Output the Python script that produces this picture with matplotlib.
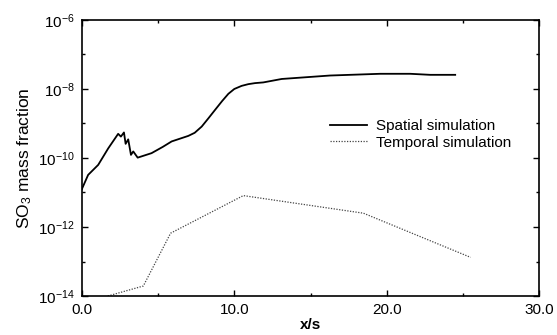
import numpy as np
import matplotlib
matplotlib.use("Agg")
import matplotlib.pyplot as plt
from matplotlib.ticker import FixedLocator, FixedFormatter

plt.rcParams['font.family'] = ['Liberation Sans', 'DejaVu Sans']
plt.rcParams['mathtext.fontset'] = 'custom'
plt.rcParams['mathtext.rm'] = 'Liberation Sans'
plt.rcParams['mathtext.it'] = 'Liberation Sans:italic'
plt.rcParams['mathtext.default'] = 'regular'

# spatial simulation: x/s and log10 of SO3 mass fraction
spatial_x = [0.0, 0.41, 1.07, 1.73, 2.38, 2.56, 2.76, 2.87, 3.04, 3.22, 3.37, 3.66,
             4.57, 5.3, 5.89, 6.98, 7.4, 7.86, 8.3, 8.73, 9.2, 9.61, 10.0, 10.48,
             10.92, 11.36, 11.9, 13.11, 16.28, 19.57, 21.54, 22.85, 24.49]
spatial_log = [-10.9, -10.49, -10.2, -9.72, -9.3, -9.38, -9.26, -9.59, -9.46, -9.91,
               -9.81, -9.99, -9.86, -9.68, -9.52, -9.36, -9.27, -9.09, -8.85, -8.61,
               -8.35, -8.14, -8.0, -7.91, -7.86, -7.83, -7.81, -7.71, -7.61, -7.56,
               -7.56, -7.59, -7.59]

# temporal simulation
temporal_x = [1.7, 4.03, 5.82, 10.59, 18.47, 25.5]
temporal_log = [-14.0, -13.71, -12.18, -11.09, -11.6, -12.88]

yticks = [1e-14, 1e-12, 1e-10, 1e-8, 1e-6]
ylabels = [r'$10^{-14}$', r'$10^{-12}$', r'$10^{-10}$', r'$10^{-8}$', r'$10^{-6}$']
xticks = [0, 10, 20, 30]
xlabels = ["0.0", "10.0", "20.0", "30.0"]

fig = plt.figure(figsize=(5.57, 3.35), dpi=100)
ax = fig.add_axes([0.147, 0.1164, 0.821, 0.824])

ax.plot(spatial_x, 10.0 ** np.array(spatial_log), color="black", lw=1.3,
        label="Spatial simulation")
ax.plot(temporal_x, 10.0 ** np.array(temporal_log), color="#444444", lw=0.9,
        ls=(0, (1, 1.2)), label="Temporal simulation")

ax.set_yscale("log")
ax.set_xlim(0, 30)
ax.set_ylim(1e-14, 1e-6)
ax.yaxis.set_major_locator(FixedLocator(yticks))
ax.yaxis.set_major_formatter(FixedFormatter(ylabels))
ax.yaxis.set_minor_locator(FixedLocator([1e-13, 1e-11, 1e-9, 1e-7]))
ax.yaxis.set_minor_formatter(FixedFormatter([]))
ax.set_xticks(xticks)
ax.set_xticklabels(xlabels)
ax.set_xticks([5, 15, 25], minor=True)

ax.tick_params(which="both", direction="in", top=True, right=True, labelsize=11,
               width=1.0, color="black")
ax.tick_params(which="major", length=4, pad=5)
ax.tick_params(which="minor", length=2)
for s in ax.spines.values():
    s.set_linewidth(1.2)

ax.set_xlabel("x/s", fontsize=11, fontweight="bold", labelpad=1)
ax.set_ylabel(r"SO$_3$ mass fraction", fontsize=12.5, labelpad=3)

ax.legend(loc="upper left", bbox_to_anchor=(0.543, 0.64), frameon=False, fontsize=11,
          handlelength=2.4, handletextpad=0.6, labelspacing=0.15, borderpad=0,
          borderaxespad=0)

fig.savefig("out.png", dpi=100)
